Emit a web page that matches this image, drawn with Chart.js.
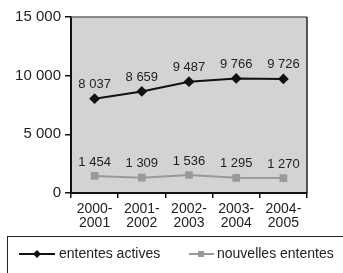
<!DOCTYPE html>
<html>
<head>
<meta charset="utf-8">
<script src="https://cdn.jsdelivr.net/npm/chart.js@4"></script>
<style>
html, body { margin: 0; padding: 0; background: #fff; }
#wrap { position: relative; width: 343px; height: 273px; overflow: hidden; font-family: "Liberation Sans", Arial, sans-serif; }
#chart { position: absolute; left: 0; top: 0; }
#legend { position: absolute; left: 7px; top: 236px; width: 345px; height: 50px; border: 1px solid #222; box-sizing: border-box; }
.sample { position: absolute; top: 12px; }
.label { position: absolute; top: 8px; font-size: 14px; line-height: 16px; color: #222; white-space: nowrap; }
</style>
</head>
<body>
<div id="wrap">
  <canvas id="chart" width="343" height="273"></canvas>
  <div id="legend">
    <svg class="sample" style="left:11px" width="36" height="10">
      <line x1="0" y1="5" x2="36" y2="5" stroke="#111" stroke-width="2"/>
      <polygon points="18,1 22,5 18,9 14,5" fill="#111"/>
    </svg>
    <span class="label" style="left:51px">ententes actives</span>
    <svg class="sample" style="left:181px" width="25" height="10">
      <line x1="0" y1="5" x2="25" y2="5" stroke="#999" stroke-width="2"/>
      <rect x="9" y="2" width="6" height="6" fill="#999"/>
    </svg>
    <span class="label" style="left:209px">nouvelles ententes</span>
  </div>
</div>
<script>
// periodes et valeurs
const periods = [['2000-', '2001'], ['2001-', '2002'], ['2002-', '2003'], ['2003-', '2004'], ['2004-', '2005']]
const ententesActives = [8037, 8659, 9487, 9766, 9726]
const nouvellesEntentes = [1454, 1309, 1536, 1295, 1270]
const yMin = 0
const yMax = 15000
const yStep = 5000

const fmt = n => String(n).replace(/\B(?=(\d{3})+(?!\d))/g, ' ')

// fond gris + bordure haut/droite de la zone de tracé
const plotBox = {
    id: 'plotBox',
    beforeDraw(chart) {
        const {ctx, chartArea: a} = chart
        ctx.save()
        ctx.fillStyle = '#d3d3d3'
        ctx.fillRect(a.left, a.top, a.right - a.left, a.bottom - a.top)
        ctx.restore()
    },
    afterDraw(chart) {
        const {ctx, chartArea: a} = chart
        ctx.save()
        ctx.lineWidth = 1.5
        ctx.strokeStyle = '#666'
        ctx.beginPath()
        ctx.moveTo(a.left, a.top)
        ctx.lineTo(a.right, a.top)
        ctx.stroke()
        ctx.strokeStyle = '#222'
        ctx.beginPath()
        ctx.moveTo(a.right, a.top)
        ctx.lineTo(a.right, a.bottom)
        ctx.stroke()
        ctx.restore()
    }
}

// étiquettes de valeurs au-dessus des points
const valueLabels = {
    id: 'valueLabels',
    afterDatasetsDraw(chart) {
        const ctx = chart.ctx
        ctx.save()
        ctx.font = '13px "Liberation Sans", Arial, sans-serif'
        ctx.fillStyle = '#222'
        ctx.textAlign = 'center'
        ctx.textBaseline = 'middle'
        chart.data.datasets.forEach((ds, i) => {
            chart.getDatasetMeta(i).data.forEach((pt, j) => {
                ctx.fillText(fmt(ds.data[j]), pt.x, pt.y - 14)
            })
        })
        ctx.restore()
    }
}

new Chart(document.getElementById('chart'), {
    type: 'line',
    data: {
        labels: periods,
        datasets: [
            {
                label: 'ententes actives',
                data: ententesActives,
                borderColor: '#111',
                backgroundColor: '#111',
                borderWidth: 2,
                pointStyle: 'rectRot',
                pointRadius: 4,
                tension: 0
            },
            {
                label: 'nouvelles ententes',
                data: nouvellesEntentes,
                borderColor: '#999',
                backgroundColor: '#999',
                borderWidth: 2,
                pointStyle: 'rect',
                pointRadius: 4,
                tension: 0
            }
        ]
    },
    options: {
        responsive: false,
        animation: false,
        layout: {padding: {top: 17, right: 36, left: 0, bottom: 0}},
        plugins: {legend: {display: false}, tooltip: {enabled: false}},
        scales: {
            x: {
                offset: true,
                grid: {offset: true, drawOnChartArea: false, tickLength: 5, color: '#111', lineWidth: 1.5},
                border: {color: '#111', width: 2},
                ticks: {
                    color: '#222', padding: 4, maxRotation: 0, autoSkip: false,
                    font: {family: '"Liberation Sans", Arial, sans-serif', size: 14, lineHeight: 1.0}
                },
                afterFit: s => { s.height = 80 }
            },
            y: {
                min: yMin,
                max: yMax,
                grid: {drawOnChartArea: false, tickLength: 6, color: '#111', lineWidth: 1.5},
                border: {color: '#111', width: 2},
                ticks: {
                    stepSize: yStep, color: '#222', padding: 4,
                    font: {family: '"Liberation Sans", Arial, sans-serif', size: 15},
                    callback: v => fmt(v)
                },
                afterFit: s => { s.width = 71 }
            }
        }
    },
    plugins: [plotBox, valueLabels]
})
</script>
</body>
</html>
